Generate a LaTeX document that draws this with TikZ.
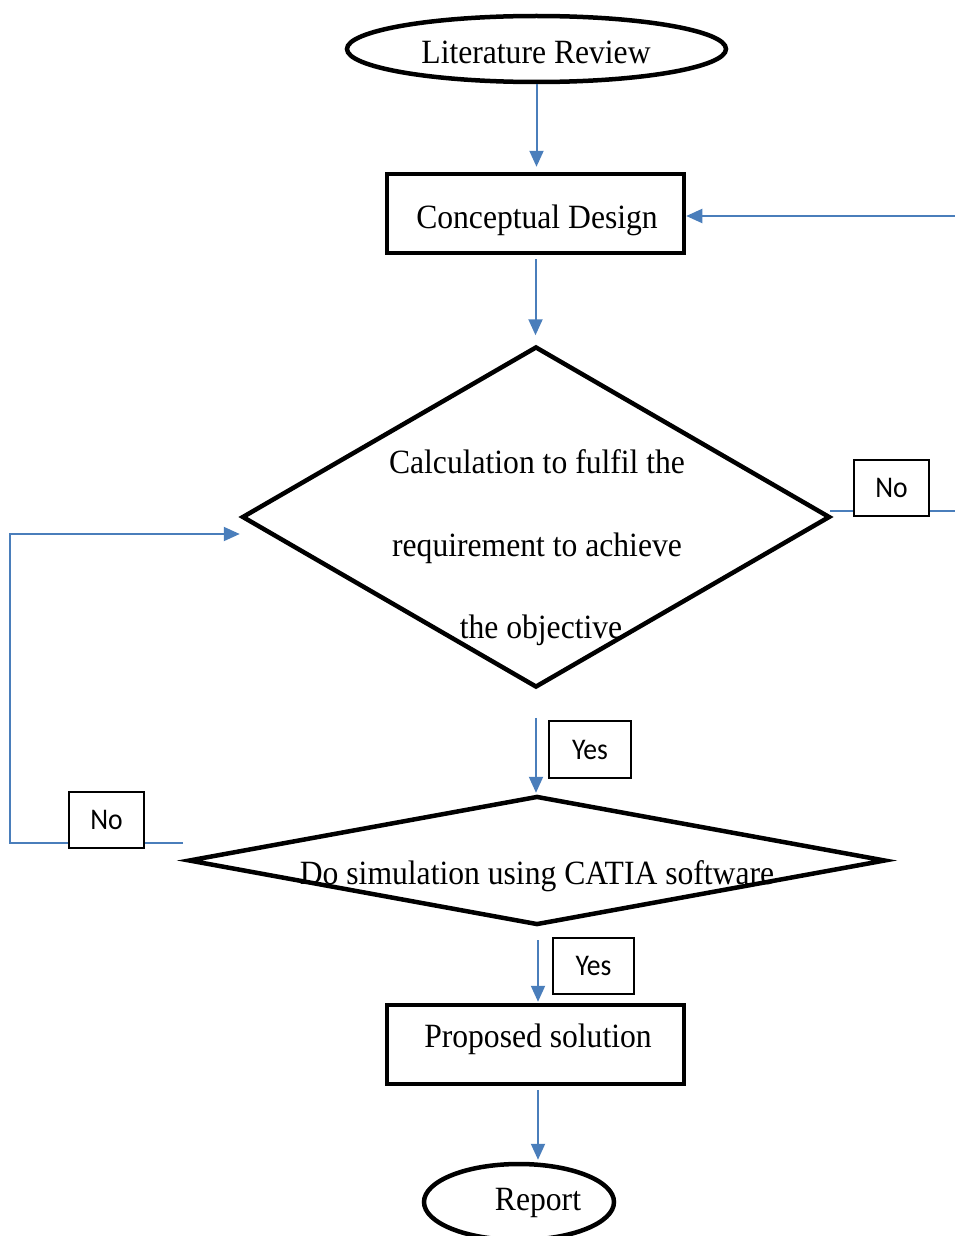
\documentclass[tikz,border=0pt]{standalone}
\usepackage{fontspec}
\setmainfont{Liberation Serif}
\newfontfamily\flowfont[FakeStretch=0.93]{Liberation Serif}
\newfontfamily\tagfont[FakeStretch=0.92]{Carlito}
\usepackage{tikz}
\usetikzlibrary{arrows.meta, shapes.geometric}
\usepackage{xcolor}
\definecolor{flowblue}{RGB}{74,126,187}
\tikzset{%
	termbox/.style={
		ellipse,
		draw,
		line width=4.5pt,
		inner sep=0pt
	},
	procbox/.style={
		rectangle,
		draw,
		line width=4.5pt,
		minimum width=297pt,
		minimum height=79pt,
		inner sep=0pt
	},
	decbox/.style={
		diamond,
		draw,
		line width=4.5pt,
		inner sep=0pt
	},
	tagbox/.style={
		rectangle,
		draw,
		line width=1.5pt,
		inner sep=0pt,
		font=\tagfont\fontsize{30}{36}\selectfont
	},
	steptext/.style={
		anchor=base,
		inner sep=0pt,
		font=\flowfont\fontsize{34}{40}\selectfont
	},
	flow/.style={draw=flowblue, line width=2pt},
	flowarrow/.style={flow, -{Triangle[length=16pt,width=14pt]}},
}

\begin{document}
\begin{tikzpicture}[x=1pt, y=-1pt]
			\useasboundingbox (0,0) rectangle (954,1236);
			
			% Draw the start ellipse
			\node[termbox, minimum width=379pt, minimum height=66pt] (lit) at (536.5,49) {};
			\node[steptext] (litText) at (536,64) {Literature Review};
			
			% Draw the design box
			\node[procbox] (concept) at (535.5,213.5) {};
			\node[steptext] (conceptText) at (537,228) {Conceptual Design};
			
			% Draw the first decision
			\node[decbox, minimum width=588pt, minimum height=341pt] (calc) at (536,517) {};
			\node[steptext] (calcA) at (537,473) {Calculation to fulfil the};
			\node[steptext] (calcB) at (537,556) {requirement to achieve};
			\node[steptext] (calcC) at (541,638) {the objective};
			
			% Draw the second decision
			\node[decbox, minimum width=697pt, minimum height=129pt] (sim) at (537,860.5) {};
			\node[steptext] (simText) at (537,884) {Do simulation using CATIA software};
			
			% Draw the solution box
			\node[procbox] (prop) at (535.5,1044.5) {};
			\node[steptext] (propText) at (538,1047) {Proposed solution};
			
			% Draw the end ellipse
			\node[termbox, minimum width=190pt, minimum height=76pt] (report) at (519,1202) {};
			\node[steptext] (reportText) at (538,1210) {Report};
			
			% Draw the Yes / No tags
			\node[tagbox, minimum width=75pt, minimum height=56pt] (noCalc) at (891.5,488) {No};
			\node[tagbox, minimum width=75pt, minimum height=56pt] (noSim) at (106.5,820) {No};
			\node[tagbox, minimum width=82pt, minimum height=57pt] (yesCalc) at (590,749.5) {Yes};
			\node[tagbox, minimum width=81pt, minimum height=56pt] (yesSim) at (593.5,966) {Yes};
			
			% Draw the arrows down the middle
			\draw[flowarrow, shorten >=5pt] (lit.south) -- (lit.south |- concept.north);
			\draw[flowarrow, shorten <=4pt, shorten >=9pt] (concept.south) -- (concept.south |- calc.north);
			\draw[flowarrow, shorten <=28pt, shorten >=1pt] (calc.south) -- (calc.south |- sim.north);
			\draw[flowarrow, shorten <=13pt, shorten >=1pt] ([xshift=1pt]sim.south) -- ([xshift=1pt]sim.south |- prop.north);
			\draw[flowarrow, shorten <=4pt, shorten >=2pt] ([xshift=2.5pt]prop.south) -- ([xshift=2.5pt]prop.south |- report.north);
			
			% Draw the loop back on the right
			\coordinate (rightLow) at (830,511);
			\coordinate (rightTop) at (958,216);
			\draw[flow] (rightLow) -- (rightLow -| noCalc.west);
			\draw[flowarrow] (rightLow -| noCalc.east) -- (rightLow -| rightTop) -- (rightTop) -- (rightTop -| concept.east);
			
			% Draw the loop back on the left
			\coordinate (leftLow) at (183,843);
			\coordinate (leftTop) at (10,534);
			\draw[flow] (leftLow) -- (leftLow -| noSim.east);
			\draw[flowarrow] (leftLow -| noSim.west) -- (leftLow -| leftTop) -- (leftTop) -- (leftTop -| calc.west);
			
		\end{tikzpicture}
\end{document}
